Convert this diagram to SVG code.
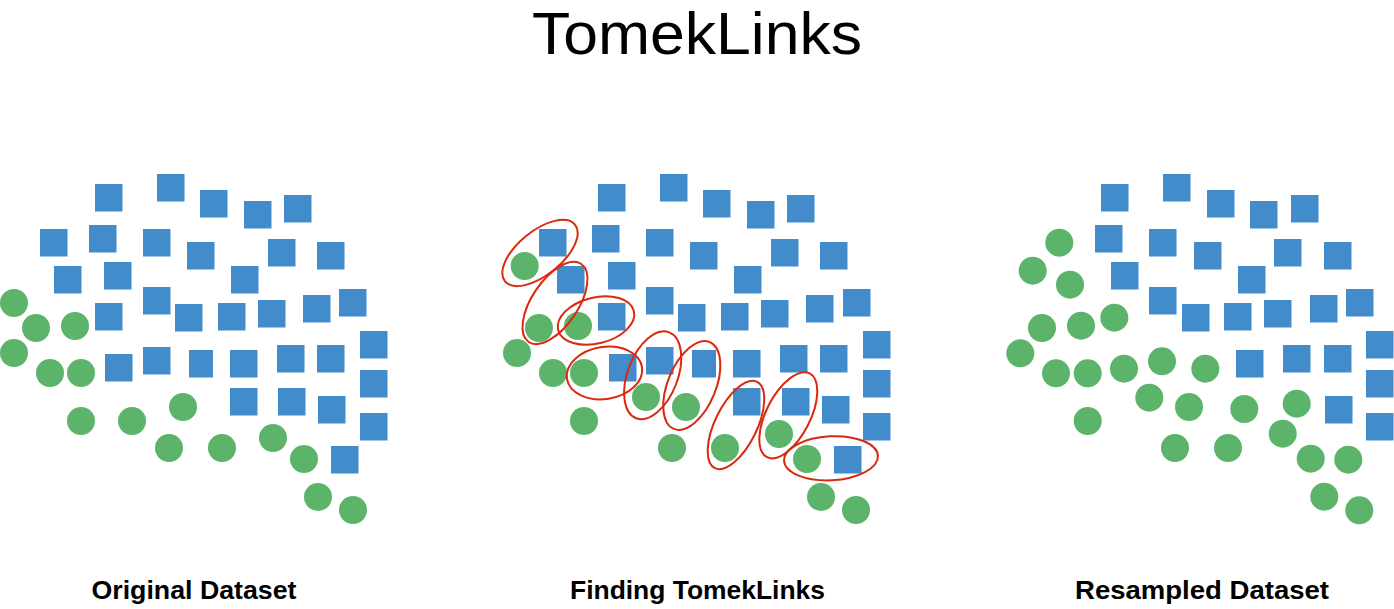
<svg xmlns="http://www.w3.org/2000/svg" width="1394" height="609" viewBox="0 0 1394 609">
<style>
.sq{fill:#428ccb}
.ci{fill:#5cb46a}
.lk{fill:none;stroke:#d9290f;stroke-width:2}
.t{font-family:"Liberation Sans",Arial,sans-serif;fill:#000;text-anchor:middle}
.lb{font-weight:bold;font-size:25px}
</style>
<rect width="1394" height="609" fill="#fff"/>
<text class="t" x="697" y="54" font-size="60" textLength="330" lengthAdjust="spacingAndGlyphs">TomekLinks</text>
<g id="panel-original">
<g id="original-majority">
<rect class="sq" x="95" y="184" width="27.5" height="27.5"/><rect class="sq" x="157" y="174" width="27.5" height="27.5"/><rect class="sq" x="200" y="190" width="27.5" height="27.5"/><rect class="sq" x="244" y="201" width="27.5" height="27.5"/><rect class="sq" x="284" y="195" width="27.5" height="27.5"/>
<rect class="sq" x="40" y="229" width="27.5" height="27.5"/><rect class="sq" x="89" y="225" width="27.5" height="27.5"/><rect class="sq" x="143" y="229" width="27.5" height="27.5"/><rect class="sq" x="187" y="242" width="27.5" height="27.5"/><rect class="sq" x="268" y="239" width="27.5" height="27.5"/><rect class="sq" x="317" y="242" width="27.5" height="27.5"/>
<rect class="sq" x="54" y="266" width="27.5" height="27.5"/><rect class="sq" x="104" y="262" width="27.5" height="27.5"/><rect class="sq" x="231" y="266" width="27.5" height="27.5"/>
<rect class="sq" x="143" y="287" width="27.5" height="27.5"/><rect class="sq" x="95" y="303" width="27.5" height="27.5"/><rect class="sq" x="175" y="304" width="27.5" height="27.5"/><rect class="sq" x="218" y="303" width="27.5" height="27.5"/><rect class="sq" x="258" y="300" width="27.5" height="27.5"/><rect class="sq" x="303" y="295" width="27.5" height="27.5"/><rect class="sq" x="339" y="289" width="27.5" height="27.5"/>
<rect class="sq" x="360" y="331" width="27.5" height="27.5"/><rect class="sq" x="105" y="354" width="27.5" height="27.5"/><rect class="sq" x="143" y="347" width="27.5" height="27.5"/><rect class="sq" x="189" y="350" width="24" height="27.5"/><rect class="sq" x="230" y="350" width="27.5" height="27.5"/><rect class="sq" x="277" y="345" width="27.5" height="27.5"/><rect class="sq" x="317" y="345" width="27.5" height="27.5"/>
<rect class="sq" x="360" y="370" width="27.5" height="27.5"/><rect class="sq" x="230" y="388" width="27.5" height="27.5"/><rect class="sq" x="278" y="388" width="27.5" height="27.5"/><rect class="sq" x="318" y="396" width="27.5" height="27.5"/><rect class="sq" x="360" y="413" width="27.5" height="27.5"/><rect class="sq" x="331" y="446" width="27.5" height="27.5"/>
</g>
<g id="original-minority">
<circle class="ci" cx="14" cy="303" r="14"/><circle class="ci" cx="36" cy="328" r="14"/><circle class="ci" cx="75" cy="326" r="14"/><circle class="ci" cx="14" cy="353" r="14"/><circle class="ci" cx="50" cy="373" r="14"/><circle class="ci" cx="81" cy="373" r="14"/><circle class="ci" cx="81" cy="421" r="14"/><circle class="ci" cx="132" cy="421" r="14"/><circle class="ci" cx="183" cy="407" r="14"/><circle class="ci" cx="169" cy="448" r="14"/><circle class="ci" cx="222" cy="448" r="14"/><circle class="ci" cx="273" cy="438" r="14"/><circle class="ci" cx="304" cy="459" r="14"/><circle class="ci" cx="318" cy="497" r="14"/><circle class="ci" cx="353" cy="510" r="14"/>
</g>
<text class="t lb" x="194" y="599" textLength="205" lengthAdjust="spacingAndGlyphs">Original Dataset</text>
</g>
<g id="panel-finding">
<g id="finding-majority">
<rect class="sq" x="598" y="184" width="27.5" height="27.5"/><rect class="sq" x="660" y="174" width="27.5" height="27.5"/><rect class="sq" x="703" y="190" width="27.5" height="27.5"/><rect class="sq" x="747" y="201" width="27.5" height="27.5"/><rect class="sq" x="787" y="195" width="27.5" height="27.5"/>
<rect class="sq" x="539" y="229" width="27.5" height="27.5"/><rect class="sq" x="592" y="225" width="27.5" height="27.5"/><rect class="sq" x="646" y="229" width="27.5" height="27.5"/><rect class="sq" x="690" y="242" width="27.5" height="27.5"/><rect class="sq" x="771" y="239" width="27.5" height="27.5"/><rect class="sq" x="820" y="242" width="27.5" height="27.5"/>
<rect class="sq" x="557" y="266" width="27.5" height="27.5"/><rect class="sq" x="608" y="262" width="27.5" height="27.5"/><rect class="sq" x="734" y="266" width="27.5" height="27.5"/>
<rect class="sq" x="646" y="287" width="27.5" height="27.5"/><rect class="sq" x="598" y="303" width="27.5" height="27.5"/><rect class="sq" x="678" y="304" width="27.5" height="27.5"/><rect class="sq" x="721" y="303" width="27.5" height="27.5"/><rect class="sq" x="761" y="300" width="27.5" height="27.5"/><rect class="sq" x="806" y="295" width="27.5" height="27.5"/><rect class="sq" x="843" y="289" width="27.5" height="27.5"/>
<rect class="sq" x="863" y="331" width="27.5" height="27.5"/><rect class="sq" x="609" y="354" width="27.5" height="27.5"/><rect class="sq" x="646" y="347" width="27.5" height="27.5"/><rect class="sq" x="692" y="350" width="24" height="27.5"/><rect class="sq" x="733" y="350" width="27.5" height="27.5"/><rect class="sq" x="780" y="345" width="27.5" height="27.5"/><rect class="sq" x="820" y="345" width="27.5" height="27.5"/>
<rect class="sq" x="863" y="370" width="27.5" height="27.5"/><rect class="sq" x="733" y="388" width="27.5" height="27.5"/><rect class="sq" x="782" y="388" width="27.5" height="27.5"/><rect class="sq" x="822" y="396" width="27.5" height="27.5"/><rect class="sq" x="863" y="413" width="27.5" height="27.5"/><rect class="sq" x="834" y="446" width="27.5" height="27.5"/>
</g>
<g id="finding-minority">
<circle class="ci" cx="524.7" cy="266" r="14"/><circle class="ci" cx="539" cy="328" r="14"/><circle class="ci" cx="578" cy="326" r="14"/><circle class="ci" cx="517" cy="353" r="14"/><circle class="ci" cx="553" cy="373" r="14"/><circle class="ci" cx="584" cy="373" r="14"/><circle class="ci" cx="584" cy="421" r="14"/><circle class="ci" cx="646" cy="397" r="14"/><circle class="ci" cx="686" cy="407" r="14"/><circle class="ci" cx="672" cy="448" r="14"/><circle class="ci" cx="725" cy="448" r="14"/><circle class="ci" cx="779" cy="434" r="14"/><circle class="ci" cx="807" cy="459" r="14"/><circle class="ci" cx="821" cy="497" r="14"/><circle class="ci" cx="856" cy="510" r="14"/>
</g>
<g id="tomek-links">
<ellipse class="lk" cx="0" cy="0" rx="45" ry="22" transform="translate(540 253) rotate(-39)"/>
<ellipse class="lk" cx="0" cy="0" rx="47" ry="23" transform="translate(555 303) rotate(-56)"/>
<ellipse class="lk" cx="0" cy="0" rx="39" ry="23" transform="translate(596 320.5) rotate(-14)"/>
<ellipse class="lk" cx="0" cy="0" rx="38" ry="26" transform="translate(604.5 373) rotate(-9)"/>
<ellipse class="lk" cx="0" cy="0" rx="46" ry="25" transform="translate(652.7 375.3) rotate(-69)"/>
<ellipse class="lk" cx="0" cy="0" rx="47" ry="24" transform="translate(691.8 385.5) rotate(-67.5)"/>
<ellipse class="lk" cx="0" cy="0" rx="48" ry="21" transform="translate(736 425) rotate(-64)"/>
<ellipse class="lk" cx="0" cy="0" rx="47" ry="22" transform="translate(788.3 415.3) rotate(-63)"/>
<ellipse class="lk" cx="0" cy="0" rx="47" ry="22" transform="translate(831 458.3) rotate(-3)"/>
</g>
<text class="t lb" x="697.5" y="599" textLength="255" lengthAdjust="spacingAndGlyphs">Finding TomekLinks</text>
</g>
<g id="panel-resampled">
<g id="resampled-majority">
<rect class="sq" x="1101" y="184" width="27.5" height="27.5"/><rect class="sq" x="1163" y="174" width="27.5" height="27.5"/><rect class="sq" x="1207" y="190" width="27.5" height="27.5"/><rect class="sq" x="1250" y="201" width="27.5" height="27.5"/><rect class="sq" x="1291" y="195" width="27.5" height="27.5"/>
<rect class="sq" x="1095" y="225" width="27.5" height="27.5"/><rect class="sq" x="1149" y="229" width="27.5" height="27.5"/><rect class="sq" x="1194" y="242" width="27.5" height="27.5"/><rect class="sq" x="1274" y="239" width="27.5" height="27.5"/><rect class="sq" x="1324" y="242" width="27.5" height="27.5"/>
<rect class="sq" x="1111" y="262" width="27.5" height="27.5"/><rect class="sq" x="1238" y="266" width="27.5" height="27.5"/>
<rect class="sq" x="1149" y="287" width="27.5" height="27.5"/><rect class="sq" x="1182" y="304" width="27.5" height="27.5"/><rect class="sq" x="1224" y="303" width="27.5" height="27.5"/><rect class="sq" x="1264" y="300" width="27.5" height="27.5"/><rect class="sq" x="1310" y="295" width="27.5" height="27.5"/><rect class="sq" x="1346" y="289" width="27.5" height="27.5"/>
<rect class="sq" x="1366" y="331" width="27.5" height="27.5"/><rect class="sq" x="1236" y="350" width="27.5" height="27.5"/><rect class="sq" x="1283" y="345" width="27.5" height="27.5"/><rect class="sq" x="1324" y="345" width="27.5" height="27.5"/>
<rect class="sq" x="1366" y="370" width="27.5" height="27.5"/><rect class="sq" x="1325" y="396" width="27.5" height="27.5"/><rect class="sq" x="1366" y="413" width="27.5" height="27.5"/>
</g>
<g id="resampled-minority">
<circle class="ci" cx="1059.3" cy="242.7" r="14"/><circle class="ci" cx="1032.7" cy="270.7" r="14"/><circle class="ci" cx="1070" cy="284.7" r="14"/><circle class="ci" cx="1042" cy="328" r="14"/><circle class="ci" cx="1081" cy="325.7" r="14"/><circle class="ci" cx="1114.3" cy="317.7" r="14"/><circle class="ci" cx="1020.3" cy="353.3" r="14"/><circle class="ci" cx="1056" cy="373.3" r="14"/><circle class="ci" cx="1087.7" cy="373.3" r="14"/><circle class="ci" cx="1124" cy="368.7" r="14"/><circle class="ci" cx="1162" cy="361.3" r="14"/><circle class="ci" cx="1205.3" cy="368.7" r="14"/>
<circle class="ci" cx="1087.7" cy="421" r="14"/><circle class="ci" cx="1149.3" cy="397.7" r="14"/><circle class="ci" cx="1189" cy="407" r="14"/><circle class="ci" cx="1244.3" cy="409" r="14"/><circle class="ci" cx="1296.7" cy="403.7" r="14"/><circle class="ci" cx="1175" cy="448" r="14"/><circle class="ci" cx="1228" cy="448" r="14"/><circle class="ci" cx="1282.7" cy="433.7" r="14"/><circle class="ci" cx="1310.7" cy="458.7" r="14"/><circle class="ci" cx="1348.3" cy="459.7" r="14"/><circle class="ci" cx="1324.3" cy="496.7" r="14"/><circle class="ci" cx="1359.3" cy="510.3" r="14"/>
</g>
<text class="t lb" x="1202" y="599" textLength="254" lengthAdjust="spacingAndGlyphs">Resampled Dataset</text>
</g>
</svg>
